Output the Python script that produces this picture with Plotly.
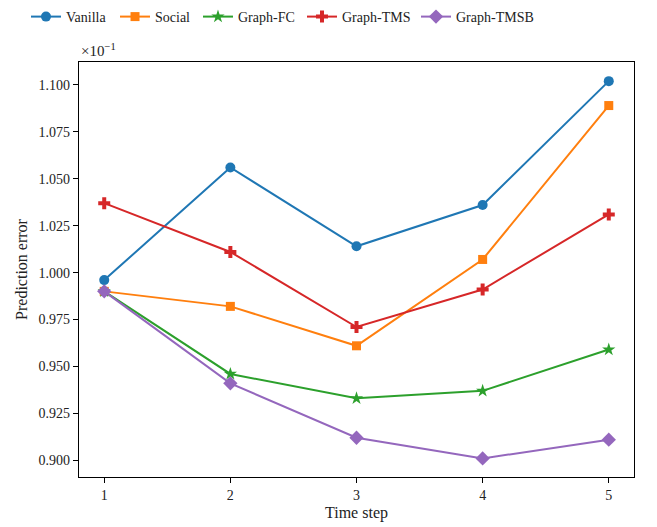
import plotly.graph_objects as go

time_steps = [1, 2, 3, 4, 5]
vanilla = [0.996, 1.056, 1.014, 1.036, 1.102]
social = [0.990, 0.982, 0.961, 1.007, 1.089]
graph_fc = [0.990, 0.946, 0.933, 0.937, 0.959]
graph_tms = [1.037, 1.011, 0.971, 0.991, 1.031]
graph_tmsb = [0.990, 0.941, 0.912, 0.901, 0.911]
y_ticks = [0.900, 0.925, 0.950, 0.975, 1.000, 1.025, 1.050, 1.075, 1.100]
y_tick_labels = ["0.900", "0.925", "0.950", "0.975", "1.000", "1.025", "1.050", "1.075", "1.100"]

series = [
    ("Vanilla", vanilla, "#1f77b4", "circle", 10),
    ("Social", social, "#ff7f0e", "square", 9),
    ("Graph-FC", graph_fc, "#2ca02c", "star", 10),
    ("Graph-TMS", graph_tms, "#d62728", "cross", 10),
    ("Graph-TMSB", graph_tmsb, "#9467bd", "diamond", 11),
]
legend_x = [-0.0955, 0.0649, 0.2144, 0.4018, 0.6072]

FONT = "Liberation Serif"

fig = go.Figure()
legend_ids = ["legend", "legend2", "legend3", "legend4", "legend5"]
for (name, vals, color, sym, sz), lid in zip(series, legend_ids):
    fig.add_trace(go.Scatter(
        x=time_steps, y=vals, name=name, mode="lines+markers",
        line=dict(color=color, width=2),
        marker=dict(symbol=sym, size=sz, color=color, line=dict(width=0)),
        legend=lid, showlegend=True,
    ))

layout_legends = {}
for lid, lx in zip(legend_ids, legend_x):
    layout_legends[lid] = dict(
        orientation="h", x=lx, xanchor="left", y=1.147, yanchor="top",
        xref="paper", yref="paper", font=dict(size=14),
        itemwidth=30, bgcolor="rgba(0,0,0,0)",
    )

fig.update_layout(
    width=649, height=519,
    margin=dict(l=71, r=23, t=54, b=50, autoexpand=False),
    paper_bgcolor="white", plot_bgcolor="white",
    font=dict(family=FONT, size=14, color="#222"),
    xaxis=dict(
        range=[0.8, 5.2], tickmode="array", tickvals=time_steps,
        ticktext=[str(t) for t in time_steps], automargin=False,
        showgrid=False, zeroline=False, showline=True, mirror=True,
        linecolor="black", linewidth=1.2, ticks="outside", ticklen=5,
        tickwidth=1, tickcolor="black",
        title=dict(text="Time step", font=dict(size=16), standoff=4),
        tickfont=dict(size=14),
    ),
    yaxis=dict(
        range=[0.8911, 1.1122], tickmode="array", tickvals=y_ticks,
        ticktext=y_tick_labels, automargin=False,
        showgrid=False, zeroline=False, showline=True, mirror=True,
        linecolor="black", linewidth=1.2, ticks="outside", ticklen=5,
        tickwidth=1, tickcolor="black",
        title=dict(text="Prediction error", font=dict(size=16), standoff=6),
        tickfont=dict(size=14),
    ),
    annotations=[dict(
        text="×10<sup>−1</sup>", xref="paper", yref="paper", x=0, y=1.0,
        xanchor="left", yanchor="bottom", showarrow=False,
        font=dict(family=FONT, size=15), yshift=1,
    )],
    **layout_legends,
)

fig.write_html("out.html")
